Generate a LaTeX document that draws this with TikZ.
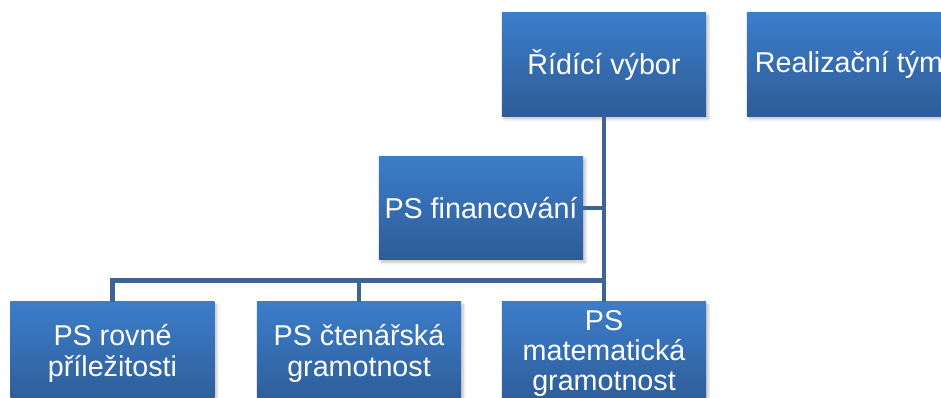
\documentclass[tikz,border=0pt]{standalone}
\usepackage{fontspec}
\setmainfont{Liberation Sans}
\usetikzlibrary{shadows.blur}

\definecolor{boxtop}{HTML}{3C7DCA}
\definecolor{boxbot}{HTML}{2E5C98}
\definecolor{linkblue}{HTML}{3D6497}

\begin{document}
\begin{tikzpicture}[x=0.025cm, y=-0.025cm]

\tikzset{team/.style = {shape=rectangle, top color=boxtop, bottom color=boxbot,
    text=white, align=center, inner sep=0pt,
    minimum width=5.1cm, minimum height=2.575cm,
    font=\fontsize{20.4}{21.6}\selectfont,
    blur shadow={shadow xshift=1.5pt, shadow yshift=-2pt, shadow blur steps=6, shadow opacity=25}}}
\tikzset{link/.style = {draw=linkblue, line width=3.2pt}}

\clip (0,0) rectangle (941,398);
\useasboundingbox (0,0) rectangle (941,398);

% boxes
\node[team] (rid) at (604,64.5) {Řídící výbor};
\node[team] (real) at (849,64.5) {Realizační tým};
\node[team] (fin) at (481,208) {PS financování};
\node[team] (rov) at (112.5,353.5) {PS rovné\\příležitosti};
\node[team] (cte) at (359,353.5) {PS čtenářská\\gramotnost};
\node[team] (mat) at (604,353.5) {PS\\matematická\\gramotnost};
\coordinate (bus) at (604,280.5);

% links
\draw[link] (rid.south) -- (mat.north);
\draw[link] (fin.east) -- (fin.east -| rid.south);
\draw[link] (rov.north) |- (bus);
\draw[link] (cte.north) -- (cte.north |- bus);

\end{tikzpicture}
\end{document}
